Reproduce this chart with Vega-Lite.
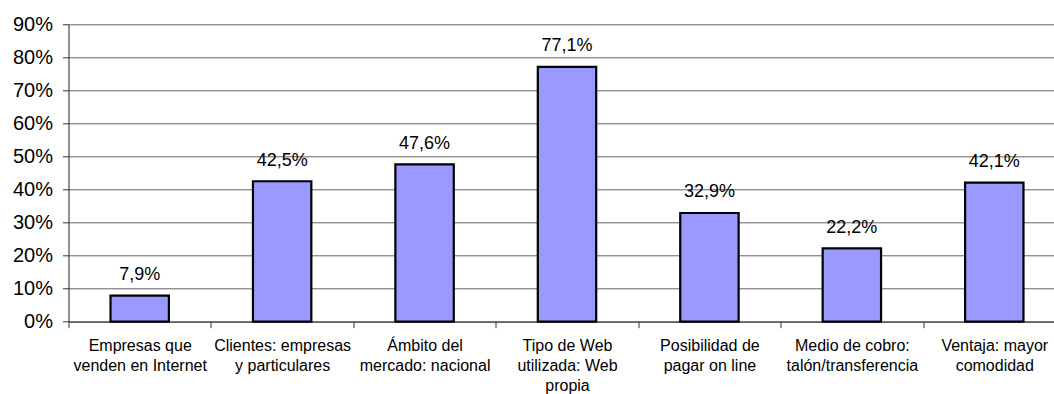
{
  "$schema": "https://vega.github.io/schema/vega-lite/v6.json",
  "autosize": "none",
  "width": 997,
  "height": 297.4,
  "padding": {"left": 68.5, "top": 24.3, "right": 0, "bottom": 72.3},
  "background": "white",
  "config": {
    "font": "Liberation Sans",
    "view": {"stroke": null},
    "axis": {"labelColor": "black", "labelFont": "Liberation Sans"}
  },
  "data": {
    "values": [
      {"cat": "Empresas que|venden en Internet", "value": 0.079, "label": "7,9%"},
      {"cat": "Clientes: empresas|y particulares", "value": 0.425, "label": "42,5%"},
      {"cat": "Ámbito del|mercado: nacional", "value": 0.476, "label": "47,6%"},
      {"cat": "Tipo de Web|utilizada: Web|propia", "value": 0.771, "label": "77,1%"},
      {"cat": "Posibilidad de|pagar on line", "value": 0.329, "label": "32,9%"},
      {"cat": "Medio de cobro:|talón/transferencia", "value": 0.222, "label": "22,2%"},
      {"cat": "Ventaja: mayor|comodidad", "value": 0.421, "label": "42,1%"}
    ]
  },
  "encoding": {
    "x": {
      "field": "cat",
      "type": "nominal",
      "sort": null,
      "scale": {"paddingInner": 0, "paddingOuter": 0},
      "axis": {
        "title": null,
        "labelAngle": 0,
        "labelExpr": "isString(datum.value) ? split(datum.value, '|') : ''",
        "labelFontSize": 16,
        "labelLineHeight": 20,
        "labelPadding": 10,
        "tickBand": "extent",
        "tickSize": 6,
        "tickColor": "#333",
        "domainColor": "#333",
        "labelBaseline": "top"
      }
    },
    "y": {
      "field": "value",
      "type": "quantitative",
      "scale": {"domain": [0, 0.9], "nice": false},
      "axis": {
        "title": null,
        "format": ".0%",
        "values": [0, 0.1, 0.2, 0.3, 0.4, 0.5, 0.6, 0.7, 0.8, 0.9],
        "labelFontSize": 20,
        "labelPadding": 10,
        "tickSize": 6,
        "tickColor": "#333",
        "domainColor": "#222",
        "gridColor": "#666",
        "gridOpacity": 1,
        "grid": true
      }
    }
  },
  "layer": [
    {
      "mark": {"type": "bar", "width": {"band": 0.41}, "fill": "#9999FF", "stroke": "black", "strokeWidth": 2.2}
    },
    {
      "mark": {"type": "text", "baseline": "alphabetic", "dy": -15.5, "fontSize": 18, "color": "black"},
      "encoding": {"text": {"field": "label"}}
    }
  ]
}
